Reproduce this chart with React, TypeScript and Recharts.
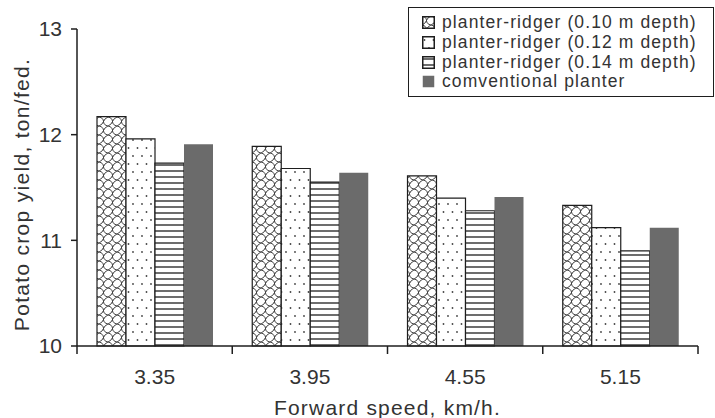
import React from 'react';
import { BarChart, Bar, XAxis, YAxis, Legend } from 'recharts';

// forward speed groups (km/h) and potato yield (ton/fed.) per planter setting
const speeds = ['3.35', '3.95', '4.55', '5.15'];
const depth010 = [12.17, 11.89, 11.61, 11.33];
const depth012 = [11.96, 11.68, 11.4, 11.12];
const depth014 = [11.73, 11.55, 11.28, 10.9];
const conventional = [11.91, 11.64, 11.41, 11.12];
const yTicks = [10, 11, 12, 13];
const seriesOrder = ['d010', 'd012', 'd014', 'conv'];

const data = speeds.map((speed, i) => ({
  speed,
  d010: depth010[i],
  d012: depth012[i],
  d014: depth014[i],
  conv: conventional[i],
}));

const CHART_W = 715;
const CHART_H = 418;
const MARGIN = { top: 29, right: 17, bottom: 0, left: 0 };
const Y_AXIS_W = 77;
const X_AXIS_H = 72;
const PLOT_W = CHART_W - MARGIN.left - MARGIN.right - Y_AXIS_W;

const INK = '#1e1e1e';
const TEXT = '#333';
const DARK = '#6b6b6b';
const FONT = '"Liberation Sans", Arial, sans-serif';

// category ticks: label in the middle, tick marks on the group boundaries
const SpeedTick = (props: any) => {
  const { x, y, payload, index } = props;
  const band = PLOT_W / speeds.length;
  const axisY = y - 8;
  const left = x - band / 2;
  const right = x + band / 2;
  return (
    <g>
      <line x1={left} x2={left} y1={axisY} y2={axisY + 8} stroke={INK} strokeWidth={1.5} />
      {index === speeds.length - 1 && (
        <line x1={right} x2={right} y1={axisY} y2={axisY + 8} stroke={INK} strokeWidth={1.5} />
      )}
      <text x={x} y={axisY + 38} textAnchor="middle" fill={TEXT} fontSize={21} fontFamily={FONT}>
        {payload.value}
      </text>
    </g>
  );
};

const YTitle = (props: any) => {
  const { viewBox } = props;
  const cx = viewBox.x + 21;
  const cy = viewBox.y + viewBox.height / 2 + 7;
  return (
    <text
      x={cx}
      y={cy}
      transform={`rotate(-90 ${cx} ${cy})`}
      textAnchor="middle"
      dominantBaseline="central"
      fill={TEXT}
      fontSize={21}
      fontFamily={FONT}
      letterSpacing={1.3}
    >
      Potato crop yield, ton/fed.
    </text>
  );
};

const XTitle = (props: any) => {
  const { viewBox } = props;
  return (
    <text
      x={viewBox.x + viewBox.width / 2}
      y={viewBox.y + 69}
      textAnchor="middle"
      fill={TEXT}
      fontSize={21}
      fontFamily={FONT}
      letterSpacing={1.2}
    >
      Forward speed, km/h.
    </text>
  );
};

const LegendBox = ({ payload }: any) => {
  const items = [...(payload || [])].sort(
    (a: any, b: any) => seriesOrder.indexOf(a.dataKey) - seriesOrder.indexOf(b.dataKey)
  );
  return (
    <div
      style={{
        width: 306,
        height: 90,
        boxSizing: 'border-box',
        border: `1.5px solid ${INK}`,
        background: '#fff',
        padding: '5px 0 0 13px',
        fontFamily: FONT,
        fontSize: 17.5,
        lineHeight: '17px',
        color: TEXT,
      }}
    >
      {items.map((entry: any) => (
        <div
          key={entry.value}
          style={{ display: 'flex', alignItems: 'center', height: 19.7, whiteSpace: 'nowrap' }}
        >
          <svg width={13} height={13} style={{ marginRight: 7, flexShrink: 0 }}>
            <rect
              x={0.75}
              y={0.75}
              width={11.5}
              height={11.5}
              fill={entry.color}
              stroke={entry.color === DARK ? 'none' : INK}
              strokeWidth={1.5}
            />
          </svg>
          <span style={{ letterSpacing: 1.1 }}>{entry.value}</span>
        </div>
      ))}
    </div>
  );
};

export default function App() {
  return (
    <div style={{ position: 'absolute', left: 0, top: 0, width: CHART_W, height: CHART_H, fontFamily: FONT, background: '#fff' }}>
      <BarChart width={CHART_W} height={CHART_H} data={data} margin={MARGIN} barGap={0} barCategoryGap={20}>
        <defs>
          <pattern id="pt-scales" width={9} height={9} patternUnits="userSpaceOnUse">
            <rect width={9} height={9} fill="#fff" />
            <path
              d="M0 0 Q4.5 1 4.5 4.5 Q4.5 8 9 9 M9 0 Q5.5 1.5 4.5 4.5 M4.5 4.5 Q3.5 7.5 0 9"
              fill="none"
              stroke="#2a2a2a"
              strokeWidth={0.9}
            />
          </pattern>
          <pattern id="pt-dots" width={9} height={16} patternUnits="userSpaceOnUse">
            <rect width={9} height={16} fill="#fff" />
            <circle cx={2.5} cy={4} r={0.9} fill="#444" />
            <circle cx={7} cy={12} r={0.9} fill="#444" />
          </pattern>
          <pattern id="pt-lines" width={6} height={6} patternUnits="userSpaceOnUse">
            <rect width={6} height={6} fill="#fff" />
            <line x1={0} x2={6} y1={3} y2={3} stroke="#1e1e1e" strokeWidth={1.3} />
          </pattern>
        </defs>
        <XAxis
          dataKey="speed"
          height={X_AXIS_H}
          axisLine={{ stroke: INK, strokeWidth: 1.5 }}
          tickLine={false}
          tickSize={8}
          tickMargin={0}
          tick={<SpeedTick />}
          interval={0}
          label={<XTitle />}
        />
        <YAxis
          width={Y_AXIS_W}
          domain={[10, 13]}
          ticks={yTicks}
          interval={0}
          axisLine={{ stroke: INK, strokeWidth: 1.5 }}
          tickLine={{ stroke: INK, strokeWidth: 1.5 }}
          tickSize={6}
          tickMargin={9}
          tick={{ fill: TEXT, fontSize: 21, fontFamily: FONT }}
          label={<YTitle />}
        />
        <Legend
          layout="horizontal"
          verticalAlign="middle"
          align="center"
          content={<LegendBox />}
          wrapperStyle={{ left: 408, top: 7, width: 306, height: 90 }}
        />
        <Bar dataKey="d010" name="planter-ridger (0.10 m depth)" fill="url(#pt-scales)" stroke={INK} strokeWidth={1.2} isAnimationActive={false} />
        <Bar dataKey="d012" name="planter-ridger (0.12 m depth)" fill="url(#pt-dots)" stroke={INK} strokeWidth={1.2} isAnimationActive={false} />
        <Bar dataKey="d014" name="planter-ridger (0.14 m depth)" fill="url(#pt-lines)" stroke={INK} strokeWidth={1.2} isAnimationActive={false} />
        <Bar dataKey="conv" name="comventional planter" fill={DARK} isAnimationActive={false} />
      </BarChart>
    </div>
  );
}
